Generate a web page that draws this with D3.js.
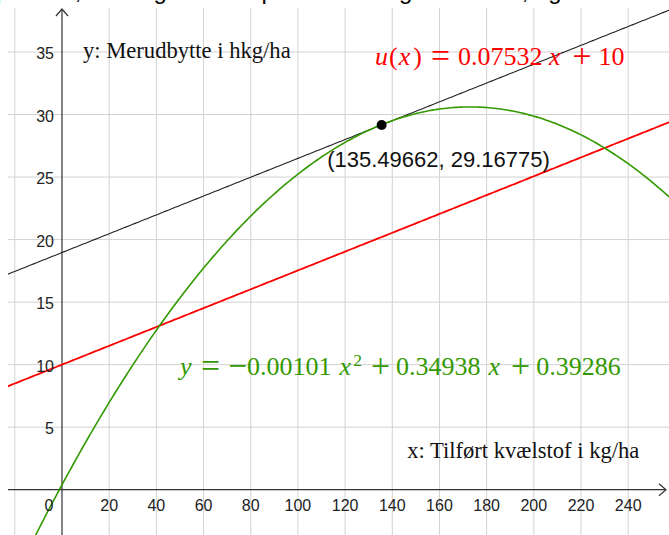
<!DOCTYPE html>
<html>
<head>
<meta charset="utf-8">
<script src="https://cdn.jsdelivr.net/npm/d3@7"></script>
<style>
  body { margin: 0; background: #fff; }
  svg { display: block; }
</style>
</head>
<body>
<div id="chart"></div>
<script>
const width = 669, height = 535;

// data
const xTicks = [0, 20, 40, 60, 80, 100, 120, 140, 160, 180, 200, 220, 240];
const xGrid = [-20, 20, 40, 60, 80, 100, 120, 140, 160, 180, 200, 220, 240];
const yTicks = [5, 10, 15, 20, 25, 30, 35];
const yGrid = [-5, 5, 10, 15, 20, 25, 30, 35];
const parabola = [-0.00101, 0.34938, 0.39286];   // a, b, c
const lineU = [0.07532, 10];                      // slope, intercept
const tangentPoint = [135.49662, 29.16775];

const x = d3.scaleLinear().domain([-20, 240]).range([14.8, 628.2]);
const y = d3.scaleLinear().domain([0, 35]).range([489.7, 52]);

const svg = d3.select("#chart").append("svg")
	.attr("width", width)
	.attr("height", height);

// heading text of the page, only its lower edge shows above the plot
svg.append("text")
	.attr("x", -4).attr("y", -1)
	.style("font-family", "Liberation Sans, Arial, sans-serif")
	.style("font-size", "24px")
	.text("punktet, så tangenten er parallel med grafen for u, og den er tangent");

svg.append("clipPath").attr("id", "plot")
	.append("rect").attr("x", 8).attr("y", 8).attr("width", width - 8).attr("height", height - 8);

const g = svg.append("g").attr("clip-path", "url(#plot)");

// grid
g.selectAll("line.gx").data(xGrid).join("line")
	.attr("x1", d => x(d)).attr("x2", d => x(d))
	.attr("y1", 0).attr("y2", height)
	.attr("stroke", "#d2d2d2").attr("stroke-width", 1);
g.selectAll("line.gy").data(yGrid).join("line")
	.attr("y1", d => y(d)).attr("y2", d => y(d))
	.attr("x1", 0).attr("x2", width)
	.attr("stroke", "#d2d2d2").attr("stroke-width", 1);

// axes
const axisColor = "#333";
g.append("line")
	.attr("x1", 0).attr("x2", width - 3)
	.attr("y1", y(0)).attr("y2", y(0))
	.attr("stroke", axisColor).attr("stroke-width", 1.2);
g.append("path")
	.attr("d", `M${width - 10},${y(0) - 6} L${width - 3},${y(0)} L${width - 10},${y(0) + 6}`)
	.attr("fill", "none").attr("stroke", axisColor).attr("stroke-width", 1.2);
g.append("line")
	.attr("x1", x(0)).attr("x2", x(0))
	.attr("y1", height).attr("y2", 9)
	.attr("stroke", axisColor).attr("stroke-width", 1.2);
svg.append("path")
	.attr("d", `M${x(0) - 6},${16} L${x(0)},${9} L${x(0) + 6},${16}`)
	.attr("fill", "none").attr("stroke", axisColor).attr("stroke-width", 1.2);

// tick labels
const tickFont = "Liberation Sans, Arial, sans-serif";
svg.selectAll("text.xt").data(xTicks).join("text")
	.attr("x", d => d === 0 ? x(d) - 13 : x(d))
	.attr("y", y(0) + 21)
	.attr("text-anchor", "middle")
	.style("font-family", tickFont).style("font-size", "16px").style("fill", "#222")
	.text(d => d);
svg.selectAll("text.yt").data(yTicks).join("text")
	.attr("x", x(0) - 8)
	.attr("y", d => y(d) + 7)
	.attr("text-anchor", "end")
	.style("font-family", tickFont).style("font-size", "16px").style("fill", "#222")
	.text(d => d);

// curves
const xs = d3.range(-30, 262, 1);
const f = t => parabola[0] * t * t + parabola[1] * t + parabola[2];
const u = t => lineU[0] * t + lineU[1];
const tangentIntercept = tangentPoint[1] - lineU[0] * tangentPoint[0];
const tl = t => lineU[0] * t + tangentIntercept;
const line = fn => d3.line().x(d => x(d)).y(d => y(fn(d)))(xs);

g.append("path").attr("d", line(tl))
	.attr("fill", "none").attr("stroke", "#222").attr("stroke-width", 1.1);
g.append("path").attr("d", line(u))
	.attr("fill", "none").attr("stroke", "#ff0000").attr("stroke-width", 1.8);
g.append("path").attr("d", line(f))
	.attr("fill", "none").attr("stroke", "#339900").attr("stroke-width", 1.6);

g.append("circle")
	.attr("cx", x(tangentPoint[0])).attr("cy", y(tangentPoint[1]))
	.attr("r", 5).attr("fill", "#000");

// labels
const serif = "Liberation Serif, Times New Roman, serif";
svg.append("text")
	.attr("x", x(8.9)).attr("y", y(34.5))
	.style("font-family", serif).style("font-size", "22.6px").style("fill", "#111")
	.text("y: Merudbytte i hkg/ha");

svg.append("text")
	.attr("x", x(146.3)).attr("y", y(2.53))
	.style("font-family", serif).style("font-size", "22.6px").style("fill", "#111")
	.text("x: Tilført kvælstof i kg/ha");

svg.append("text")
	.attr("x", x(112.4)).attr("y", y(25.8))
	.style("font-family", tickFont).style("font-size", "22px").style("fill", "#111")
	.text(`(${tangentPoint[0]}, ${tangentPoint[1]})`);

// formula text with TeX-like spacing
// token: [text, kind, dx px]  kind: "i" italic, "o" operator, "s" superscript, "" plain
function formula(sel, tokens) {
	let shift = 0;
	tokens.forEach(([t, kind, dx]) => {
		const ts = sel.append("tspan").text(t).attr("dx", dx || 0);
		let target = 0;
		if (kind === "i") ts.style("font-style", "italic");
		if (kind === "o") { ts.style("font-size", "1.3em"); target = 2; }
		if (kind === "s") { ts.style("font-size", "0.68em"); target = -9; }
		ts.attr("dy", target - shift);
		shift = target;
	});
}

const uText = svg.append("text")
	.attr("x", x(132.7)).attr("y", y(33.96))
	.style("font-family", serif).style("font-size", "26px").style("fill", "#ff0000");
formula(uText, [
	["u", "i"], ["(", "", 1], ["x", "i", 1], [")", "", 3],
	["=", "o", 9], [String(lineU[0]), "", 8],
	["x", "i", 6.5], ["+", "o", 12], [String(lineU[1]), "", 7]
]);

const fText = svg.append("text")
	.attr("x", x(50)).attr("y", y(9.17))
	.style("font-family", serif).style("font-size", "26px").style("fill", "#339900");
formula(fText, [
	["y", "i"], ["=", "o", 9.5], ["−", "o", 8], [String(-parabola[0]), "", 0],
	["x", "i", 8], ["2", "s", 2],
	["+", "o", 9], [String(parabola[1]), "", 6],
	["x", "i", 8], ["+", "o", 11], [String(parabola[2]), "", 6]
]);
</script>
</body>
</html>
